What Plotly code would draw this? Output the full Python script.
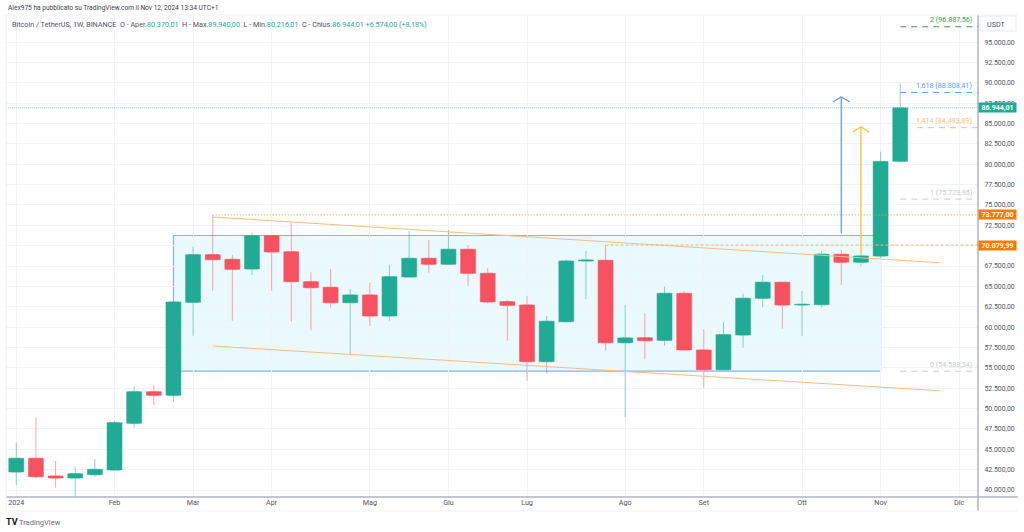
import plotly.graph_objects as go

weeks = ["2024-01-01","2024-01-08","2024-01-15","2024-01-22","2024-01-29","2024-02-05","2024-02-12","2024-02-19","2024-02-26",
"2024-03-04","2024-03-11","2024-03-18","2024-03-25","2024-04-01","2024-04-08","2024-04-15","2024-04-22","2024-04-29",
"2024-05-06","2024-05-13","2024-05-20","2024-05-27","2024-06-03","2024-06-10","2024-06-17","2024-06-24","2024-07-01",
"2024-07-08","2024-07-15","2024-07-22","2024-07-29","2024-08-05","2024-08-12","2024-08-19","2024-08-26","2024-09-02",
"2024-09-09","2024-09-16","2024-09-23","2024-09-30","2024-10-07","2024-10-14","2024-10-21","2024-10-28","2024-11-04","2024-11-11"]
opens = [42210,43893,41720,41470,41880,42456,48190,52070,51630,63050,68900,68330,67140,71230,69260,65580,64890,63000,63950,61370,
66160,68450,67720,69560,66610,63130,62720,55760,60670,68120,68200,58090,58700,58380,64150,57190,54770,59030,63540,65510,62720,62760,68950,67970,68730,80370]
highs = [45808,48880,43560,42860,43800,48500,52770,52900,63100,69880,73807,68860,71640,71250,72750,66730,67140,64680,65460,67630,
71800,70700,71930,70080,67230,63330,63820,61370,68330,69350,70090,62720,61700,64970,64440,59770,60630,64100,66400,65510,64440,69350,69470,69000,81540,89940]
lows = [40614,41437,40283,38500,41600,42300,47650,50440,50840,58950,64470,60790,66400,64470,60670,59600,62390,56540,60140,60790,
66120,66690,67720,65050,62900,58340,53420,54330,60670,63420,57110,48930,56050,57720,57190,52560,54740,57470,62430,59810,58910,62430,65170,67420,68500,80216]
closes = [43893,41633,41470,42000,42540,48264,52070,51630,63090,68900,68280,67100,71230,69230,65580,64840,63000,63950,61370,66190,
68450,67720,69560,66610,63090,62680,55760,60720,68120,68240,58090,58670,58330,64150,57190,54770,59070,63540,65510,62720,62800,68950,67970,68740,80350,86944]

month_ticks = ["2024-01-01","2024-02-05","2024-03-04","2024-04-01","2024-05-06","2024-06-03","2024-07-01","2024-08-05","2024-09-02","2024-10-07","2024-11-04","2024-12-02"]
month_labels = ["2024","Feb","Mar","Apr","Mag","Giu","Lug","Ago","Set","Ott","Nov","Dic"]
price_ticks = [40000,42500,45000,47500,50000,52500,55000,57500,60000,62500,65000,67500,70000,72500,75000,77500,80000,82500,85000,87500,90000,92500,95000]

fib_levels = [96887.56, 88808.41, 84493.89, 75723.95, 54588.34]
fib_texts = ["2 (96.887,56)", "1,618 (88.808,41)", "1,414 (84.493,89)", "1 (75.723,95)", "0 (54.588,34)"]
fib_colors = ["#3f9a4a", "#5b9cf6", "#f9c27d", "#c9cbd1", "#c9cbd1"]
fib_starts = ["2024-11-11", "2024-11-11", "2024-11-17", "2024-11-11", "2024-11-11"]

GREEN, RED = "#22ab94", "#f7525f"
FONT = "Roboto"
L, R, T, B, W, H = 6, 978, 15, 497, 1024, 532
BODY_MS = 461700000
px = lambda x: (x - L) / (R - L)
py = lambda y: (B - y) / (B - T)

body_colors = [GREEN if c >= o else RED for o, c in zip(opens, closes)]

fig = go.Figure()
fig.add_trace(go.Bar(x=weeks, y=[abs(c - o) for o, c in zip(opens, closes)], base=[min(o, c) for o, c in zip(opens, closes)],
    width=BODY_MS, marker=dict(color=body_colors, line=dict(color=body_colors, width=0.5)), hoverinfo="skip", showlegend=False))
fig.add_trace(go.Candlestick(x=weeks, open=opens, high=highs, low=lows, close=closes, opacity=0.5, whiskerwidth=0,
    increasing=dict(line=dict(color=GREEN, width=1), fillcolor=GREEN),
    decreasing=dict(line=dict(color=RED, width=1), fillcolor=RED), hoverinfo="skip", showlegend=False))

shapes = [
    dict(type="rect", x0="2024-02-26", x1="2024-11-04", y0=54588.34, y1=71250, layer="below",
         fillcolor="rgba(178,235,242,0.28)", line=dict(color="#86b4ee", width=1.2)),
    dict(type="line", x0="2024-03-11", x1="2024-11-25", y0=73520, y1=67910, line=dict(color="#f5bd84", width=1)),
    dict(type="line", x0="2024-03-11", x1="2024-11-25", y0=57683, y1=52190, line=dict(color="#f5bd84", width=1)),
    dict(type="line", x0="2024-03-11", x1="2024-12-09", y0=73777, y1=73777, line=dict(color="#f79a3e", width=1, dash="1px,2px")),
    dict(type="line", x0="2024-07-29", x1="2024-12-09", y0=70079.99, y1=70079.99, line=dict(color="#f5b478", width=1, dash="3px,2px")),
    dict(type="line", xref="paper", x0=0, x1=1, y0=86944, y1=86944, line=dict(color="#a6dcd3", width=1, dash="1px,1px")),
    # measuring arrows
    dict(type="line", x0="2024-10-21", x1="2024-10-21", y0=71500, y1=88300, line=dict(color="#5e9ff7", width=1.3)),
    dict(type="line", x0="2024-10-18", x1="2024-10-21", y0=87650, y1=88300, line=dict(color="#5e9ff7", width=1.3)),
    dict(type="line", x0="2024-10-24", x1="2024-10-21", y0=87650, y1=88300, line=dict(color="#5e9ff7", width=1.3)),
    dict(type="line", x0="2024-10-28", x1="2024-10-28", y0=69000, y1=84600, line=dict(color="#f9bf45", width=1.3)),
    dict(type="line", x0="2024-10-25", x1="2024-10-28", y0=83950, y1=84600, line=dict(color="#f9bf45", width=1.3)),
    dict(type="line", x0="2024-10-31", x1="2024-10-28", y0=83950, y1=84600, line=dict(color="#f9bf45", width=1.3)),
    # frame
    dict(type="line", xref="paper", yref="paper", x0=1, x1=1, y0=py(511), y1=1, line=dict(color="#8a8d96", width=1)),
    dict(type="line", xref="paper", yref="paper", x0=0, x1=px(1018), y0=0, y1=0, line=dict(color="#b2b5be", width=1.5)),
    dict(type="line", xref="paper", yref="paper", x0=0, x1=0, y0=py(511), y1=1, line=dict(color="#eceef2", width=1)),
    dict(type="line", xref="paper", yref="paper", x0=0, x1=px(1018), y0=1, y1=1, line=dict(color="#f0f3fa", width=1)),
    dict(type="line", xref="paper", yref="paper", x0=0, x1=px(1018), y0=py(511), y1=py(511), line=dict(color="#f0f3fa", width=1)),
    dict(type="rect", xref="paper", yref="paper", x0=px(980), x1=px(1016), y0=py(31), y1=py(16), fillcolor="white", line=dict(color="#e8eaef", width=1)),
]
for lvl, col, start in zip(fib_levels, fib_colors, fib_starts):
    shapes.append(dict(type="line", x0=start, x1="2024-12-09", y0=lvl, y1=lvl, line=dict(color=col, width=1, dash="6px,5px")))

def note(x, y, text, size=7.5, color="#50535e", anchor="left", **kw):
    return dict(xref="paper", yref="paper", x=px(x), y=py(y), text=text, showarrow=False, xanchor=anchor, yanchor="middle",
                font=dict(family=FONT, size=size, color=color), **kw)

def val(v):
    return f'<span style="color:{GREEN}">{v}</span>'

legend = ("Bitcoin / TetherUS, 1W, BINANCE &nbsp;O - Aper." + val("80.370,01") + " &nbsp;H - Max." + val("89.940,00")
          + " &nbsp;L - Min." + val("80.216,01") + " &nbsp;C - Chius." + val("86.944,01 +6.574,00 (+8,18%)"))

annotations = [
    note(6, 8, "Alex975 ha pubblicato su TradingView.com il Nov 12, 2024 13:34 UTC+1", size=6.6, color="#3a3d46"),
    note(10, 24, legend, size=7.2),
    note(985, 24, "USDT", size=7.2),
    note(4, 522, "<b>TV</b>", size=9, color="#131722"),
    note(17, 522, "TradingView", size=7.5, color="#6a6d78"),
]
for lvl, txt, col in zip(fib_levels, fib_texts, fib_colors):
    annotations.append(dict(xref="paper", yref="y", x=px(974), y=lvl, yshift=7, text=txt, showarrow=False, xanchor="right",
                            yanchor="middle", font=dict(family=FONT, size=7.2, color=col)))
for v, txt, col in [(86944, "86.944,01", GREEN), (73777, "73.777,00", "#f57c00"), (70079.99, "70.079,99", "#f57c00")]:
    annotations.append(dict(xref="paper", yref="y", x=px(978), y=v, text=f"<b>{txt}</b>", showarrow=False, xanchor="left", yanchor="middle",
                            width=37, height=9, bgcolor=col, borderpad=0, align="center", font=dict(family=FONT, size=7, color="white")))

fig.update_layout(
    width=W, height=H, margin=dict(l=L, r=W - R, t=T, b=H - B), autosize=False, showlegend=False,
    paper_bgcolor="white", plot_bgcolor="white", separators=",.", barmode="overlay",
    font=dict(family=FONT, size=7, color="#50535e"), shapes=shapes, annotations=annotations,
    xaxis=dict(type="date", range=["2023-12-28 08:00", "2024-12-08 17:00"], tickvals=month_ticks, ticktext=month_labels,
               rangeslider=dict(visible=False), gridcolor="#f0f3fa", gridwidth=1, showline=False, ticks="", zeroline=False,
               tickfont=dict(family=FONT, size=7.2, color="#50535e")),
    yaxis=dict(side="right", range=[39140, 98330], tickvals=price_ticks, tickformat=",.2f", gridcolor="#f0f3fa", gridwidth=1,
               showline=False, ticks="outside", ticklen=4, tickcolor="rgba(0,0,0,0)", zeroline=False,
               tickfont=dict(family=FONT, size=6.9, color="#50535e")),
)
fig.write_html("out.html", config={"displayModeBar": False},
               post_script="document.body.style.margin='0';document.body.style.overflow='hidden';")
